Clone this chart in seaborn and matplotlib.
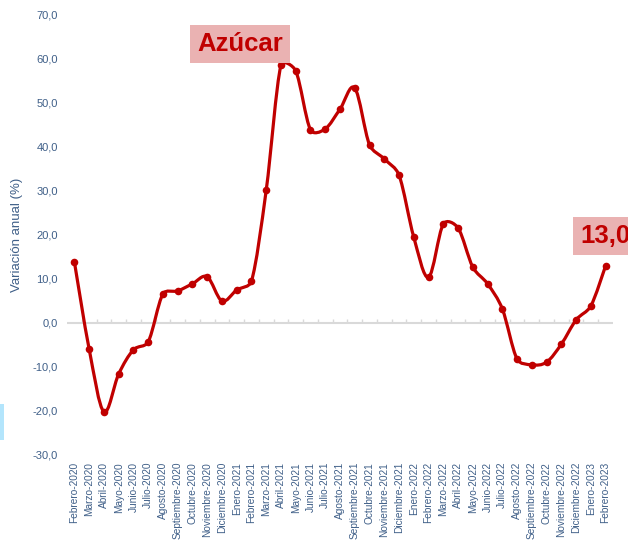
import numpy as np
import pandas as pd
import seaborn as sns
import matplotlib.pyplot as plt
from matplotlib.path import Path
from matplotlib.patches import PathPatch, Rectangle

meses = ['Febrero-2020', 'Marzo-2020', 'Abril-2020', 'Mayo-2020', 'Junio-2020', 'Julio-2020',
         'Agosto-2020', 'Septiembre-2020', 'Octubre-2020', 'Noviembre-2020', 'Diciembre-2020',
         'Enero-2021', 'Febrero-2021', 'Marzo-2021', 'Abril-2021', 'Mayo-2021', 'Junio-2021',
         'Julio-2021', 'Agosto-2021', 'Septiembre-2021', 'Octubre-2021', 'Noviembre-2021',
         'Diciembre-2021', 'Enero-2022', 'Febrero-2022', 'Marzo-2022', 'Abril-2022', 'Mayo-2022',
         'Junio-2022', 'Julio-2022', 'Agosto-2022', 'Septiembre-2022', 'Octubre-2022',
         'Noviembre-2022', 'Diciembre-2022', 'Enero-2023', 'Febrero-2023']
variacion = [13.9, -5.9, -20.2, -11.6, -6.1, -4.3, 6.6, 7.3, 8.9, 10.5, 5.0,
             7.5, 9.5, 30.2, 58.6, 57.3, 43.9, 44.1, 48.6, 53.4, 40.5, 37.3,
             33.6, 19.5, 10.4, 22.5, 21.6, 12.7, 8.9, 3.2, -8.2, -9.5, -8.9,
             -4.8, 0.7, 3.9, 13.0]
yticks = [-30, -20, -10, 0, 10, 20, 30, 40, 50, 60, 70]

df = pd.DataFrame({'mes': meses, 'valor': variacion})
df['pos'] = np.arange(len(df))

rojo = '#C00000'
azul = '#3F5F88'

sns.set_style('white')
plt.rcParams['font.family'] = ['Liberation Sans', 'DejaVu Sans']

fig = plt.figure(figsize=(6.28, 5.41), dpi=100)
ax = fig.add_axes([67 / 628, 1 - 455 / 541, (613 - 67) / 628, (455 - 15) / 541])
ax.set_xlim(-0.5, len(df) - 0.5)
ax.set_ylim(-30, 70)

# linea suavizada tipo Excel: catmull-rom en pantalla, asas limitadas
pts = ax.transData.transform(df[['pos', 'valor']].to_numpy(dtype=float))
n = len(pts)
tang = [(pts[min(i + 1, n - 1)] - pts[max(i - 1, 0)]) / 6 for i in range(n)]


def asa(t, largo, tope=0.4):
    m = np.hypot(*t)
    return t if m <= tope * largo else t * (tope * largo / m)


verts = [pts[0]]
codes = [Path.MOVETO]
for i in range(n - 1):
    L = np.hypot(*(pts[i + 1] - pts[i]))
    verts += [pts[i] + asa(tang[i], L), pts[i + 1] - asa(tang[i + 1], L), pts[i + 1]]
    codes += [Path.CURVE4] * 3
verts = ax.transData.inverted().transform(np.array(verts))
ax.add_patch(PathPatch(Path(verts, codes), facecolor='none', edgecolor=rojo, lw=2.3, zorder=3))

sns.scatterplot(data=df, x='pos', y='valor', color=rojo, s=30, edgecolor=rojo,
                linewidth=0, zorder=4, ax=ax, legend=False)

# eje en cero con marcas entre categorias
ax.axhline(0, color='#D9D9D9', lw=1.5, zorder=1)
ax.vlines(df['pos'][:-1] + 0.5, 0, 0.8, color='#D9D9D9', lw=1, zorder=1)

ax.set_xlim(-0.5, len(df) - 0.5)
ax.set_ylim(-30, 70)
ax.set_yticks(yticks)
ax.set_yticklabels([f'{v:.1f}'.replace('.', ',') for v in yticks], color=azul, fontsize=8)
ax.set_xticks(df['pos'])
ax.set_xticklabels(df['mes'], rotation=90, color=azul, fontsize=7.3)
ax.tick_params(axis='both', length=0)
ax.tick_params(axis='x', pad=5)
ax.tick_params(axis='y', pad=6.5)
for s in ax.spines.values():
    s.set_visible(False)
ax.set_xlabel('')
ax.set_ylabel('Variación anual (%)', color=azul, fontsize=9.5, labelpad=7)

fig.text(197 / 628, 1 - 44 / 541, 'Azúcar', color=rojo, fontsize=18.5, fontweight='bold',
         va='center', ha='left', zorder=1,
         bbox=dict(boxstyle='square,pad=0.28', facecolor='#EAB2B2', edgecolor='none'))
fig.text(580 / 628, 1 - 236 / 541, '13,0', color=rojo, fontsize=18.5, fontweight='bold',
         va='center', ha='left',
         bbox=dict(boxstyle='square,pad=0.28', facecolor='#EAB2B2', edgecolor='none'))

fig.patches.append(Rectangle((0, 1 - 440 / 541), 4 / 628, 36 / 541, transform=fig.transFigure,
                             facecolor='#B3E5FC', edgecolor='none'))

fig.savefig('out.png', dpi=100)
